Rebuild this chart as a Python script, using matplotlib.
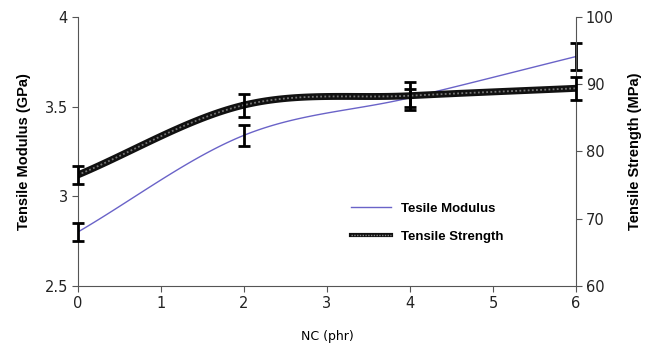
import matplotlib.pyplot as plt
import numpy as np

plt.rcParams['font.family'] = ['Liberation Sans', 'DejaVu Sans']

# data
nc = [0, 2, 4, 6]
modulus = [2.80, 3.34, 3.55, 3.78]        # GPa
modulus_err = [0.05, 0.06, 0.05, 0.075]
strength = [76.5, 86.9, 88.3, 89.4]       # MPa
strength_err = [1.3, 1.7, 2.1, 1.7]


def smooth(x, y, n=40):
    # Catmull-Rom curve through the points (like an Excel smoothed line)
    x = np.asarray(x, float)
    y = np.asarray(y, float)
    px = np.concatenate([[2 * x[0] - x[1]], x, [2 * x[-1] - x[-2]]])
    py = np.concatenate([[2 * y[0] - y[1]], y, [2 * y[-1] - y[-2]]])
    xs, ys = [], []
    t = np.linspace(0, 1, n)
    for i in range(1, len(px) - 2):
        for p, out in ((px, xs), (py, ys)):
            p0, p1, p2, p3 = p[i - 1], p[i], p[i + 1], p[i + 2]
            out.append(0.5 * (2 * p1 + (-p0 + p2) * t
                              + (2 * p0 - 5 * p1 + 4 * p2 - p3) * t ** 2
                              + (-p0 + 3 * p1 - 3 * p2 + p3) * t ** 3))
    return np.concatenate(xs), np.concatenate(ys)


def noclip(cont):
    for art in cont.get_children():
        art.set_clip_on(False)


fig = plt.figure(figsize=(6.48, 3.49), dpi=100)
ax = fig.add_axes([0.120, 0.181, 0.769, 0.770])
ax2 = ax.twinx()

mx, my = smooth(nc, modulus)
l1, = ax.plot(mx, my, color='#6a63c8', lw=1.0)
noclip(ax.errorbar(nc, modulus, yerr=modulus_err, fmt='none', ecolor='black',
                   elinewidth=2, capsize=4.5, capthick=2, zorder=5))

sx, sy = smooth(nc, strength)
b, = ax2.plot(sx, sy, color='#111111', lw=5, solid_capstyle='butt')
d, = ax2.plot(sx, sy, color='#777777', lw=1.3, ls=(0, (1, 1.3)))
noclip(ax2.errorbar(nc, strength, yerr=strength_err, fmt='none', ecolor='black',
                    elinewidth=2, capsize=4.5, capthick=2, zorder=5))
lb = plt.Line2D([], [], color='#111111', lw=3)
ld = plt.Line2D([], [], color='#888888', lw=1, ls=(0, (1, 1)))

ax.set_xlim(0, 6)
ax.set_ylim(2.5, 4)
ax.set_yticks([2.5, 3, 3.5, 4])
ax.set_yticklabels(['2.5', '3', '3.5', '4'])
ax.set_xticks(range(7))
ax2.set_ylim(60, 100)
ax2.set_yticks([60, 70, 80, 90, 100])

for a in (ax, ax2):
    a.spines['top'].set_visible(False)
    a.tick_params(length=4, color='#555555', pad=3)
    for lab in a.get_xticklabels() + a.get_yticklabels():
        lab.set_family('DejaVu Sans')
        lab.set_fontsize(10.5)
        lab.set_color('#222222')
ax.spines['right'].set_visible(False)
ax2.spines['left'].set_visible(False)
ax2.spines['bottom'].set_visible(False)
for s in ('left', 'bottom'):
    ax.spines[s].set_color('#555555')
ax2.spines['right'].set_color('#555555')

ax.set_xlabel('NC (phr)', fontsize=9, family='DejaVu Sans', labelpad=14)
ax.set_ylabel('Tensile Modulus (GPa)', fontsize=10.5, fontweight='bold', labelpad=10)
ax2.set_ylabel('Tensile Strength (MPa)', fontsize=10.5, fontweight='bold', labelpad=10)

leg = ax.legend(handles=[l1, (lb, ld)], labels=['Tesile Modulus', 'Tensile Strength'],
                loc='center left', bbox_to_anchor=(0.525, 0.235),
                frameon=False, handlelength=3.0, handletextpad=0.8, labelspacing=1.2,
                prop={'size': 9.5, 'weight': 'bold'})

fig.savefig('out.png', dpi=100)
